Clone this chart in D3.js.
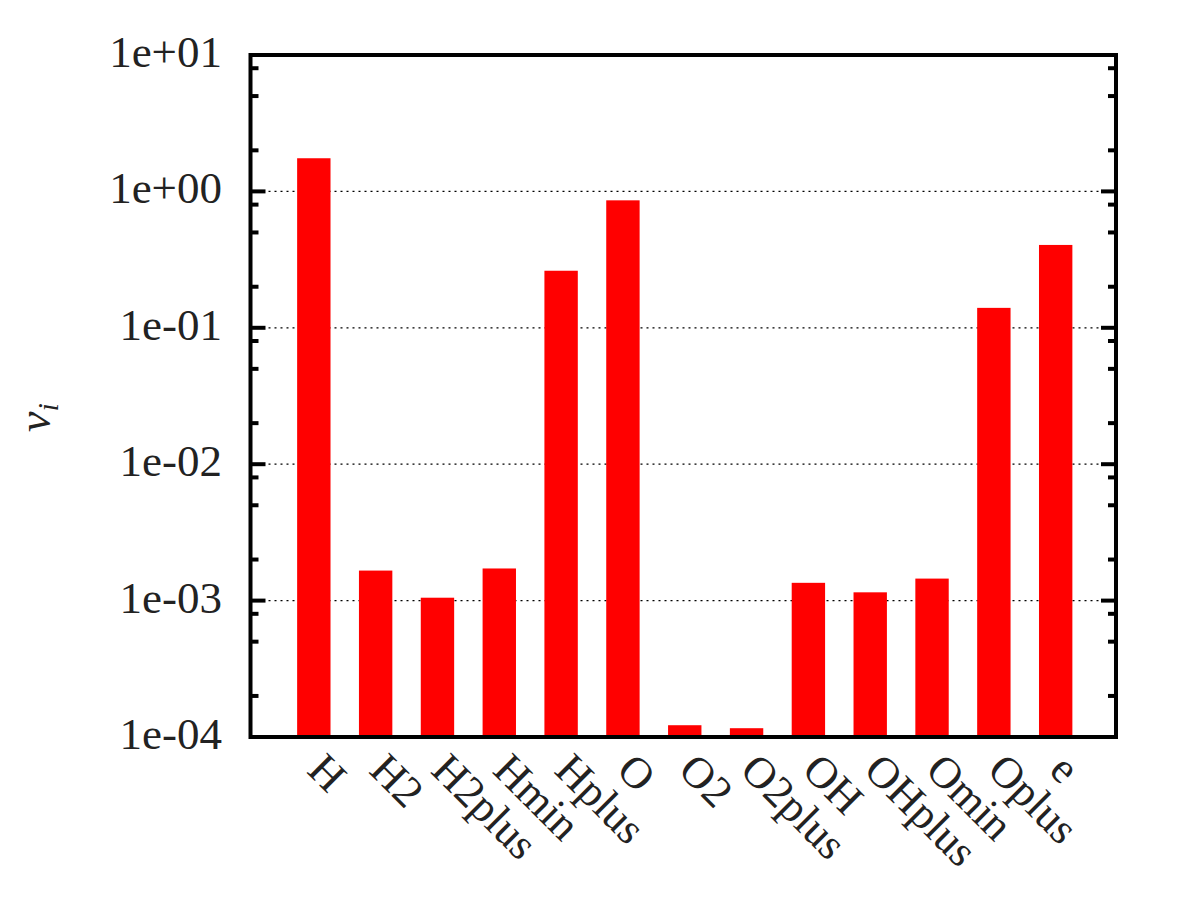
<!DOCTYPE html>
<html>
<head>
<meta charset="utf-8">
<script src="https://cdn.jsdelivr.net/npm/d3@7"></script>
<style>
  html, body { margin: 0; padding: 0; background: #fff; }
  svg { display: block; }
  text { font-family: "Liberation Serif", "DejaVu Serif", serif; fill: #222; }
</style>
</head>
<body>
<svg id="chart" width="1200" height="900"></svg>
<script>
// ---- data ----
const categories = ["H", "H2", "H2plus", "Hmin", "Hplus", "O", "O2", "O2plus", "OH", "OHplus", "Omin", "Oplus", "e"];
const values = [1.75, 1.66e-3, 1.05e-3, 1.72e-3, 0.262, 0.86, 1.22e-4, 1.16e-4, 1.35e-3, 1.15e-3, 1.45e-3, 0.14, 0.405];
const yTickValues = [1e1, 1e0, 1e-1, 1e-2, 1e-3, 1e-4];
const yTickLabels = ["1e+01", "1e+00", "1e-01", "1e-02", "1e-03", "1e-04"];
const minorMultipliers = [2, 5, 8];

// ---- layout ----
const frame = { left: 250.5, right: 1116, top: 55, bottom: 737 };
const svg = d3.select("#chart");

const x = d3.scaleLinear().domain([-1, 13]).range([252, 1117.5]);
const y = d3.scaleLog().domain([1e-4, 1e1]).range([frame.bottom, frame.top]);
const barW = 0.54;

// gridlines (dotted, majors only, interior)
svg.append("g").selectAll("line")
  .data(yTickValues.filter(v => v < 1e1 && v > 1e-4))
  .join("line")
  .attr("x1", frame.left).attr("x2", frame.right)
  .attr("y1", d => y(d)).attr("y2", d => y(d))
  .attr("stroke", "#000").attr("stroke-width", 1.2)
  .attr("stroke-dasharray", "2,4");

// bars
svg.append("g").selectAll("rect")
  .data(values)
  .join("rect")
  .attr("x", (d, i) => x(i) - (x(barW) - x(0)) / 2)
  .attr("width", x(barW) - x(0))
  .attr("y", d => y(d))
  .attr("height", d => frame.bottom - y(d))
  .attr("fill", "#ff0000");

// ticks
const minorTicks = [];
yTickValues.forEach(v => {
  if (v < 1e1) minorMultipliers.forEach(m => minorTicks.push(v * m));
});
const tickG = svg.append("g");
const drawTicks = (vals, len) => {
  tickG.selectAll(null).data(vals).join("line")
    .attr("x1", frame.left).attr("x2", frame.left + len)
    .attr("y1", d => y(d)).attr("y2", d => y(d))
    .attr("stroke", "#000").attr("stroke-width", 4);
  tickG.selectAll(null).data(vals).join("line")
    .attr("x1", frame.right).attr("x2", frame.right - len)
    .attr("y1", d => y(d)).attr("y2", d => y(d))
    .attr("stroke", "#000").attr("stroke-width", 4);
};
drawTicks(yTickValues, 15);
drawTicks(minorTicks, 8);

// frame
svg.append("rect")
  .attr("x", frame.left).attr("y", frame.top)
  .attr("width", frame.right - frame.left)
  .attr("height", frame.bottom - frame.top)
  .attr("fill", "none").attr("stroke", "#000").attr("stroke-width", 4);

// y tick labels
svg.append("g").selectAll("text")
  .data(yTickValues)
  .join("text")
  .attr("x", 222)
  .attr("y", d => y(d) + 12)
  .attr("text-anchor", "end")
  .attr("font-size", 45)
  .text((d, i) => yTickLabels[i]);

// x labels, rotated 45deg
svg.append("g").selectAll("text")
  .data(categories)
  .join("text")
  .attr("transform", (d, i) => `translate(${x(i) - 8},${772}) rotate(45)`)
  .attr("text-anchor", "start")
  .attr("font-size", 44)
  .text(d => d);

// y axis label nu_i
const yl = svg.append("text")
  .attr("transform", "translate(50,432) rotate(-90)")
  .attr("font-size", 46)
  .attr("font-style", "italic");
yl.append("tspan").text("ν");
yl.append("tspan").attr("font-size", 30).attr("dy", 8).text("i");
</script>
</body>
</html>
